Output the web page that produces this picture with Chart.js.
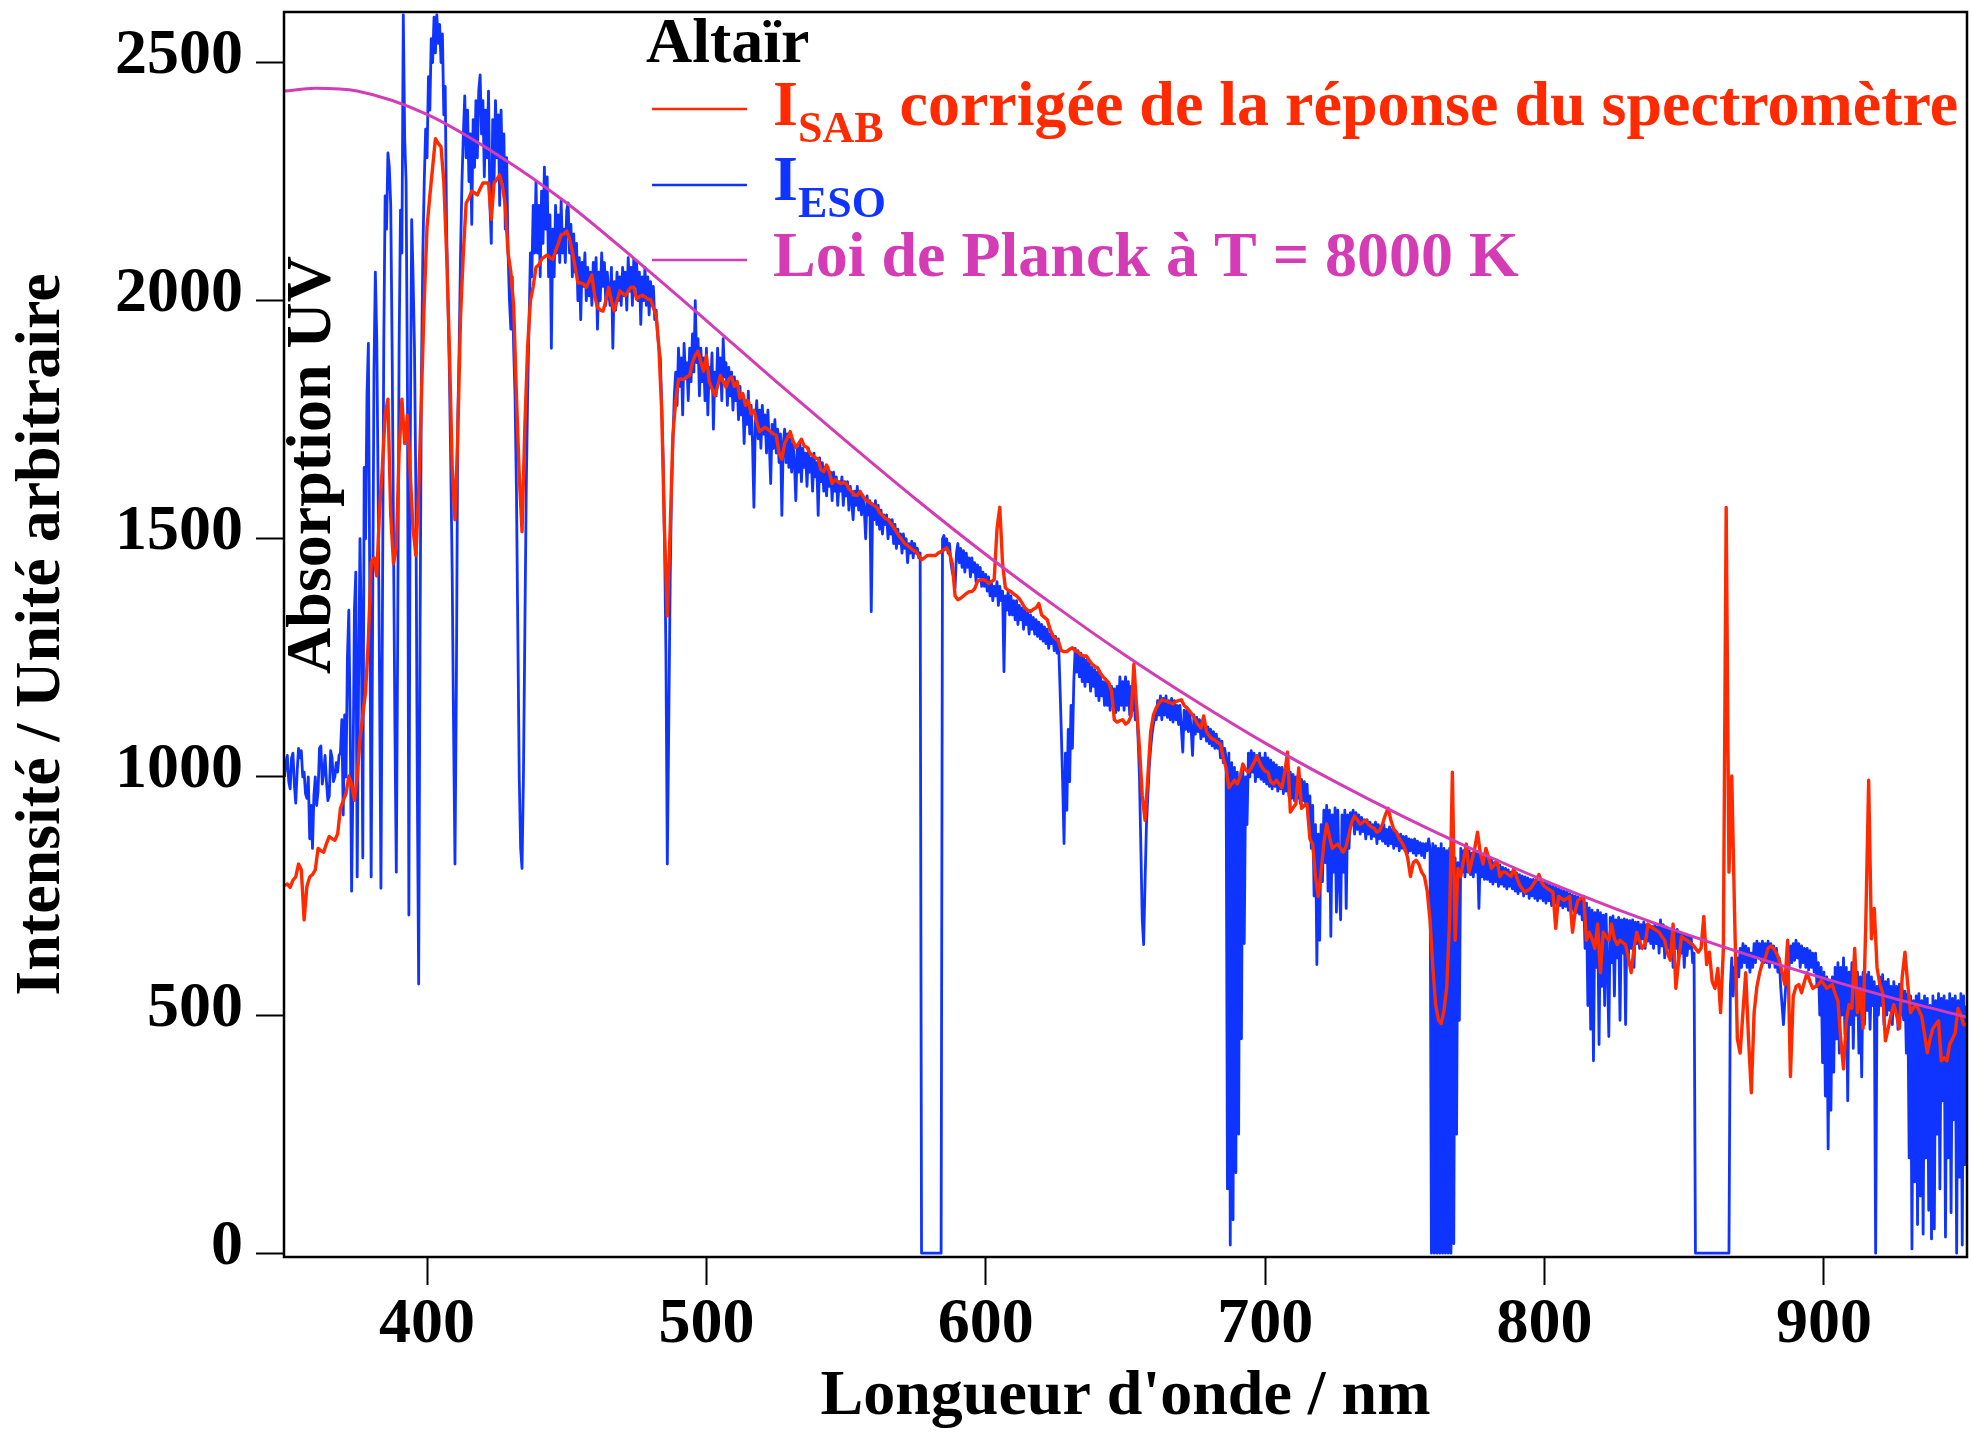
<!DOCTYPE html>
<html lang="fr">
<head>
<meta charset="utf-8">
<title>Altaïr</title>
<script src="https://cdn.jsdelivr.net/npm/chart.js@4.4.1/dist/chart.umd.min.js"></script>
<style>
  html, body { margin: 0; padding: 0; background: #fff; }
  #spectre { display: block; }
</style>
</head>
<body>
<canvas id="spectre" width="1971" height="1433"></canvas>
<script>
// ESO spectrum, one value every 0.5 nm starting at 349 nm
const esoStart = 349;
const esoStep = 0.5;
const esoValues = [
  1000, 1030, 1045, 990, 975, 1040, 1050, 985, 945, 1010, 1060, 1040, 1055, 1000, 1010, 965, 955, 1000, 870, 940,
  850, 960, 1000, 940, 970, 1060, 1065, 985, 1010, 1045, 990, 950, 960, 1055, 1040, 990, 1000, 1030, 1010, 1045,
  1050, 1120, 920, 1130, 1000, 1250, 1350, 1100, 760, 1000, 1350, 1430, 790, 1200, 1500, 1300, 830, 1650, 1500, 1800,
  1910, 1400, 790, 1300, 1850, 2060, 1920, 1600, 1200, 766, 1300, 1900, 2220, 2150, 2310, 2280, 2200, 1900, 1500, 1100,
  800, 1300, 1900, 2190, 2100, 2600, 2340, 2250, 1800, 710, 1700, 2170, 2050, 1900, 1600, 1000, 565, 1300, 1850, 2100,
  2250, 2360, 2300, 2470, 2400, 2550, 2500, 2595, 2520, 2600, 2540, 2580, 2500, 2560, 2390, 2450, 2150, 2000, 1850, 1650,
  1430, 1100, 817, 1200, 1750, 1900, 2100, 2250, 2350, 2430, 2300, 2400, 2250, 2350, 2160, 2380, 2280, 2420, 2300, 2440,
  2474, 2350, 2420, 2260, 2400, 2300, 2440, 2200, 2120, 2380, 2250, 2420, 2300, 2390, 2200, 2400, 2250, 2350, 2150, 2300,
  2100, 2000, 1940, 2050, 1900, 1800, 1600, 1300, 1000, 850, 808, 1000, 1300, 1600, 1800, 1950, 2100, 2050, 2200, 2100,
  2250, 2100, 2200, 2050, 2230, 2120, 2280, 2150, 2260, 2050, 2180, 1900, 2150, 2050, 2200, 2100, 2180, 2080, 2210, 2100,
  2150, 2080, 2190, 2205, 2100, 2160, 2050, 2140, 2060, 2120, 2000, 2090, 1960, 2080, 2030, 2100, 2000, 2070, 2010, 2060,
  1990, 2080, 2020, 2090, 1940, 2060, 2000, 2100, 2030, 2080, 1990, 2060, 2020, 1990, 2070, 1900, 2040, 1980, 2060, 2000,
  2050, 1990, 2070, 2010, 2060, 1980, 2090, 2020, 2070, 1990, 2087, 2030, 2080, 2000, 2060, 1950, 2050, 2000, 2070, 1990,
  2050, 1970, 2040, 1990, 2030, 1960, 1980, 1930, 1900, 1880, 1780, 1670, 1500, 1263, 817, 1100, 1400, 1600, 1700, 1800,
  1850, 1780, 1900, 1820, 1880, 1760, 1910, 1840, 1870, 1790, 1900, 1830, 1930, 1850, 2000, 1870, 1920, 1800, 1900, 1830,
  1880, 1790, 1900, 1760, 1860, 1820, 1890, 1730, 1850, 1800, 1900, 1830, 1880, 1790, 1920, 1840, 1870, 1780, 1860, 1800,
  1850, 1770, 1840, 1790, 1830, 1750, 1820, 1760, 1800, 1700, 1790, 1740, 1810, 1720, 1780, 1700, 1566, 1740, 1790, 1710,
  1770, 1690, 1780, 1720, 1760, 1680, 1770, 1700, 1616, 1740, 1690, 1750, 1680, 1730, 1660, 1720, 1549, 1700, 1730, 1660,
  1720, 1650, 1710, 1640, 1700, 1660, 1580, 1690, 1640, 1700, 1620, 1690, 1650, 1680, 1610, 1690, 1640, 1670, 1600, 1680,
  1630, 1660, 1549, 1670, 1620, 1660, 1600, 1650, 1590, 1650, 1610, 1640, 1580, 1640, 1600, 1630, 1570, 1620, 1600, 1630,
  1570, 1620, 1590, 1620, 1560, 1610, 1580, 1540, 1600, 1570, 1610, 1560, 1600, 1550, 1590, 1560, 1500, 1590, 1550, 1580,
  1347, 1570, 1540, 1580, 1530, 1570, 1520, 1560, 1510, 1550, 1530, 1550, 1500, 1540, 1510, 1540, 1490, 1530, 1480, 1520,
  1490, 1510, 1470, 1510, 1480, 1500, 1450, 1490, 1470, 1495, 1460, 1490, 1470, 1480, 1460, 1470, 0, 0, 0, 0,
  0, 0, 0, 0, 0, 0, 0, 0, 0, 0, 0, 1500, 1507, 1480, 1500, 1470, 1490, 1450, 1430, 1420,
  1397, 1470, 1490, 1450, 1480, 1440, 1475, 1430, 1470, 1440, 1460, 1420, 1460, 1430, 1450, 1410, 1445, 1420, 1440, 1400,
  1430, 1400, 1425, 1390, 1420, 1380, 1410, 1370, 1400, 1380, 1410, 1360, 1400, 1370, 1390, 1221, 1380, 1350, 1390, 1340,
  1380, 1340, 1370, 1330, 1370, 1320, 1360, 1330, 1355, 1310, 1350, 1320, 1345, 1300, 1340, 1310, 1335, 1300, 1330, 1295,
  1325, 1290, 1320, 1285, 1315, 1280, 1310, 1270, 1300, 1280, 1300, 1265, 1295, 1260, 1290, 1200, 1100, 990, 860, 1050,
  930, 1100, 990, 1150, 1060, 1200, 1270, 1220, 1265, 1210, 1260, 1200, 1250, 1190, 1245, 1200, 1240, 1180, 1230, 1190,
  1225, 1170, 1220, 1160, 1215, 1170, 1200, 1150, 1200, 1150, 1195, 1140, 1190, 1150, 1185, 1135, 1190, 1140, 1210, 1150,
  1200, 1140, 1210, 1150, 1200, 1130, 1190, 1140, 1180, 1120, 1150, 1080, 1000, 850, 700, 648, 780, 900, 960, 1020,
  1060, 1090, 1110, 1130, 1120, 1160, 1130, 1170, 1120, 1165, 1130, 1170, 1125, 1160, 1120, 1165, 1115, 1160, 1120, 1150,
  1110, 1150, 1100, 1052, 1140, 1100, 1140, 1095, 1135, 1100, 1045, 1130, 1090, 1125, 1095, 1120, 1080, 1115, 1085, 1110,
  1075, 1105, 1070, 1100, 1065, 1095, 1060, 1090, 1060, 1080, 1040, 1075, 1030, 1060, 1040, 135, 1050, 17, 1030, 70,
  1020, 169, 1010, 250, 1000, 450, 1020, 650, 1000, 900, 1050, 1000, 1055, 1010, 1050, 990, 1045, 1000, 1050, 995,
  1040, 990, 1050, 985, 1040, 980, 1035, 975, 1030, 980, 1025, 970, 1020, 975, 1020, 965, 1015, 970, 1010, 960,
  1010, 955, 1005, 950, 1000, 955, 1000, 945, 995, 950, 990, 940, 985, 900, 960, 850, 940, 750, 900, 606,
  880, 657, 900, 780, 930, 820, 940, 760, 930, 665, 920, 800, 935, 716, 930, 780, 700, 920, 800, 930,
  724, 920, 850, 925, 900, 930, 880, 925, 890, 920, 880, 915, 885, 910, 870, 910, 880, 905, 870, 900,
  875, 905, 860, 900, 870, 895, 865, 900, 860, 890, 855, 895, 860, 890, 850, 885, 855, 880, 845, 880,
  850, 875, 845, 875, 840, 870, 845, 868, 840, 870, 835, 865, 840, 862, 835, 860, 830, 860, 845, 870,
  850, 0, 860, 0, 855, 0, 850, 0, 860, 0, 850, 0, 845, 0, 850, 0, 820, 20, 830, 250,
  820, 489, 850, 800, 845, 790, 850, 800, 845, 795, 840, 790, 845, 800, 840, 724, 835, 790, 830, 785,
  830, 785, 825, 780, 825, 775, 820, 780, 815, 770, 815, 775, 810, 770, 808, 765, 805, 770, 800, 765,
  800, 760, 798, 755, 795, 760, 792, 750, 790, 755, 788, 745, 785, 750, 785, 745, 783, 740, 780, 745,
  780, 740, 778, 735, 775, 740, 772, 730, 770, 735, 768, 728, 765, 730, 762, 725, 760, 728, 758, 720,
  755, 722, 752, 718, 750, 715, 748, 712, 745, 700, 740, 640, 735, 520, 725, 470, 720, 404, 715, 600,
  720, 438, 715, 560, 710, 520, 712, 600, 455, 705, 610, 708, 540, 700, 620, 705, 489, 700, 630, 702,
  480, 700, 620, 698, 640, 700, 600, 695, 650, 695, 640, 690, 660, 695, 640, 690, 655, 688, 650, 686,
  640, 690, 650, 685, 630, 700, 645, 690, 620, 685, 640, 680, 630, 678, 600, 675, 640, 680, 620, 672,
  630, 670, 600, 668, 625, 665, 640, 662, 610, 630, 0, 0, 0, 0, 0, 0, 0, 0, 0, 0,
  0, 0, 0, 0, 0, 0, 0, 0, 0, 0, 0, 0, 0, 0, 0, 560, 620, 540, 600, 560,
  620, 580, 640, 600, 650, 610, 645, 600, 640, 590, 630, 600, 650, 610, 655, 620, 650, 615, 655, 610,
  650, 610, 655, 600, 650, 610, 645, 600, 640, 590, 620, 560, 520, 480, 530, 580, 630, 600, 645, 610,
  650, 615, 657, 620, 650, 600, 645, 610, 640, 600, 640, 595, 635, 600, 630, 590, 630, 560, 610, 500,
  600, 400, 590, 330, 580, 219, 570, 300, 580, 380, 600, 450, 610, 420, 600, 500, 620, 460, 600, 320,
  590, 480, 610, 430, 600, 500, 590, 420, 580, 370, 590, 480, 585, 510, 590, 470, 580, 520, 570, 0,
  560, 500, 580, 520, 585, 480, 570, 500, 575, 510, 560, 480, 570, 520, 560, 470, 565, 500, 555, 490,
  550, 420, 545, 200, 540, 9, 530, 150, 540, 60, 545, 120, 530, 40, 540, 200, 535, 90, 520, 30,
  540, 51, 530, 250, 545, 135, 535, 320, 540, 34, 530, 200, 545, 85, 535, 280, 540, 0, 530, 160,
  545, 17, 540, 186, 520
];

// SAB spectrum corrected for the spectrometer response, one value per nm from 349 nm
const sabStart = 349;
const sabStep = 1;
const sabValues = [
  772, 775, 768, 783, 790, 817, 805, 700, 770, 790,
  795, 805, 850, 845, 842, 860, 875, 870, 867, 880,
  934, 950, 965, 1002, 985, 951, 1000, 1080, 1130, 1178,
  1290, 1450, 1460, 1422, 1560, 1650, 1760, 1793, 1550, 1448,
  1480, 1683, 1793, 1700, 1759, 1633, 1520, 1465, 1600, 1800,
  2000, 2155, 2220, 2280, 2340, 2330, 2323, 2250, 2100, 1900,
  1650, 1540, 1717, 1969, 2100, 2205, 2215, 2230, 2226, 2222,
  2235, 2247, 2247, 2247, 2171, 2247, 2255, 2264, 2240, 2200,
  2100, 2060, 1990, 1800, 1633, 1515, 1734, 1902, 2000, 2030,
  2070, 2075, 2087, 2092, 2096, 2090, 2087, 2104, 2120, 2138,
  2140, 2146, 2130, 2104, 2070, 2037, 2037, 2035, 2028, 2040,
  2054, 2010, 1986, 1980, 1978, 2000, 2028, 2000, 1978, 2000,
  2020, 2015, 2011, 2020, 2028, 2028, 2003, 2008, 2011, 2008,
  2003, 2003, 1985, 1969, 1902, 1767, 1515, 1338, 1515, 1717,
  1790, 1835, 1835, 1835, 1840, 1843, 1870, 1885, 1894, 1870,
  1852, 1885, 1830, 1815, 1801, 1820, 1843, 1830, 1818, 1835,
  1840, 1820, 1830, 1795, 1805, 1780, 1790, 1762, 1770, 1745,
  1725, 1730, 1734, 1730, 1725, 1720, 1717, 1680, 1667, 1700,
  1712, 1725, 1705, 1692, 1700, 1709, 1695, 1692, 1680, 1675,
  1670, 1667, 1645, 1641, 1655, 1640, 1616, 1624, 1620, 1616,
  1618, 1616, 1605, 1599, 1592, 1591, 1599, 1590, 1582, 1578,
  1574, 1570, 1566, 1555, 1549, 1543, 1540, 1532, 1524, 1515,
  1505, 1498, 1490, 1486, 1481, 1476, 1473, 1465, 1456, 1460,
  1465, 1465, 1465, 1465, 1470, 1473, 1477, 1481, 1470, 1448,
  1380, 1372, 1375, 1380, 1385, 1389, 1389, 1395, 1410, 1414,
  1414, 1412, 1406, 1410, 1414, 1520, 1566, 1448, 1397, 1392,
  1389, 1384, 1380, 1374, 1365, 1355, 1350, 1347, 1352, 1355,
  1364, 1340, 1335, 1330, 1310, 1296, 1290, 1285, 1265, 1263,
  1263, 1268, 1271, 1265, 1262, 1256, 1254, 1254, 1245, 1237,
  1232, 1229, 1218, 1210, 1204, 1198, 1180, 1120, 1115, 1118,
  1120, 1111, 1115, 1128, 1237, 1145, 1060, 960, 909, 1000,
  1094, 1130, 1145, 1155, 1162, 1160, 1158, 1156, 1153, 1158,
  1160, 1162, 1150, 1145, 1138, 1130, 1120, 1110, 1103, 1128,
  1095, 1086, 1080, 1078, 1072, 1069, 1040, 1019, 977, 985,
  993, 985, 1000, 1027, 1015, 1010, 1019, 1030, 1044, 1030,
  1019, 1012, 1010, 990, 985, 993, 985, 977, 1010, 1052,
  926, 935, 943, 1019, 934, 940, 943, 870, 859, 791,
  749, 800, 860, 901, 875, 850, 855, 859, 850, 842,
  855, 880, 905, 918, 910, 901, 905, 909, 900, 895,
  892, 884, 888, 901, 920, 934, 909, 890, 884, 870,
  862, 850, 830, 791, 820, 825, 817, 800, 791, 760,
  700, 600, 522, 490, 482, 510, 560, 700, 1010, 657,
  808, 791, 825, 859, 800, 825, 850, 884, 840, 817,
  850, 830, 808, 815, 825, 791, 800, 800, 795, 791,
  808, 790, 774, 765, 758, 762, 766, 775, 783, 795,
  778, 770, 766, 762, 758, 682, 749, 745, 741, 745,
  749, 674, 720, 741, 745, 749, 657, 674, 660, 640,
  691, 589, 674, 665, 657, 691, 660, 648, 657, 652,
  648, 620, 589, 640, 674, 655, 640, 648, 691, 685,
  682, 678, 674, 665, 657, 630, 615, 691, 556, 615,
  665, 660, 657, 652, 648, 640, 632, 640, 707, 606,
  632, 570, 556, 598, 505, 640, 1566, 800, 1002, 716,
  450, 420, 505, 589, 450, 337, 505, 560, 589, 610,
  620, 640, 645, 640, 630, 615, 590, 564, 657, 371,
  539, 560, 564, 547, 570, 589, 570, 556, 560, 564,
  572, 565, 556, 560, 564, 545, 530, 450, 387, 488,
  522, 514, 640, 505, 556, 472, 700, 993, 660, 724,
  600, 564, 547, 446, 472, 500, 522, 500, 472, 580,
  632, 564, 505, 515, 522, 510, 497, 460, 421, 450,
  472, 480, 488, 404, 410, 404, 438, 450, 463, 514,
  500, 480, 480
];

// Planck law at T = 8000 K
const planckWavelengths = [349, 360, 375, 400, 425, 450, 475, 500, 525, 550, 575, 600, 625,
  650, 675, 700, 725, 750, 775, 800, 825, 850, 875, 900, 925, 951];
const planckValues = [2440, 2446, 2440, 2391, 2307, 2205, 2084, 1958, 1830, 1705, 1583, 1467, 1358,
  1255, 1160, 1071, 990, 915, 846, 782, 724, 671, 622, 577, 535, 496];

const xTicks = [400, 500, 600, 700, 800, 900];
const yTicks = [0, 500, 1000, 1500, 2000, 2500];

const SERIF = "'Liberation Serif', 'Times New Roman', serif";
const ROUGE = '#ff2a00';
const BLEU = '#1034ff';
const MAGENTA = '#d43bb5';

const esoPoints = esoValues.map((v, i) => ({ x: esoStart + i * esoStep, y: v }));
const sabPoints = sabValues.map((v, i) => ({ x: sabStart + i * sabStep, y: v }));
const planckPoints = planckWavelengths.map((w, i) => ({ x: w, y: planckValues[i] }));

const legendRows = [
  { color: ROUGE, lineY: 109, baseline: 125,
    parts: [['I', false], ['SAB', true], [' corrigée de la réponse du spectromètre', false]] },
  { color: BLEU, lineY: 185, baseline: 200,
    parts: [['I', false], ['ESO', true]] },
  { color: MAGENTA, lineY: 260, baseline: 276,
    parts: [['Loi de Planck à T = 8000 K', false]] }
];

// black frame around the plot area
const cadre = {
  id: 'cadre',
  afterDatasetsDraw(chart) {
    const { ctx, chartArea: a } = chart;
    ctx.save();
    ctx.strokeStyle = '#000';
    ctx.lineWidth = 2.5;
    ctx.strokeRect(a.left, a.top, a.right - a.left, a.bottom - a.top);
    ctx.restore();
  }
};

// legend block with subscripts, plus the "Absorption UV" note
const legende = {
  id: 'legende',
  afterDraw(chart) {
    const ctx = chart.ctx;
    const big = 'bold 64px ' + SERIF;
    const small = 'bold 44px ' + SERIF;
    ctx.save();
    ctx.textAlign = 'left';
    ctx.textBaseline = 'alphabetic';
    ctx.font = big;
    ctx.fillStyle = '#000';
    ctx.fillText('Altaïr', 646, 62);

    legendRows.forEach(row => {
      ctx.strokeStyle = row.color;
      ctx.lineWidth = 2.5;
      ctx.beginPath();
      ctx.moveTo(652, row.lineY);
      ctx.lineTo(747, row.lineY);
      ctx.stroke();
      ctx.fillStyle = row.color;
      let x = 773;
      row.parts.forEach(([text, sub]) => {
        ctx.font = sub ? small : big;
        ctx.fillText(text, x, row.baseline + (sub ? 17 : 0));
        x += ctx.measureText(text).width;
      });
    });

    ctx.translate(330, 465);
    ctx.rotate(-Math.PI / 2);
    ctx.font = big;
    ctx.fillStyle = '#000';
    ctx.textAlign = 'center';
    ctx.fillText('Absorption UV', 0, 0);
    ctx.restore();
  }
};

const axisFont = { family: SERIF, size: 64, weight: 'bold' };
const tickGrid = { drawOnChartArea: false, drawTicks: true, tickLength: 28, tickWidth: 2, tickColor: '#000', color: '#000' };
const plainNumber = v => String(v);

new Chart(document.getElementById('spectre'), {
  type: 'line',
  data: {
    datasets: [
      { label: 'I SAB', data: sabPoints, borderColor: ROUGE, borderWidth: 3.4, order: 1 },
      { label: 'I ESO', data: esoPoints, borderColor: BLEU, borderWidth: 2.8, order: 2 },
      { label: 'Loi de Planck', data: planckPoints, borderColor: MAGENTA, borderWidth: 3,
        cubicInterpolationMode: 'monotone', order: 0 }
    ]
  },
  options: {
    responsive: false,
    animation: false,
    parsing: false,
    elements: {
      point: { radius: 0 },
      line: { tension: 0, borderJoinStyle: 'round', fill: false }
    },
    layout: { padding: { top: 12, right: 4, left: 0, bottom: 0 } },
    plugins: { legend: { display: false }, tooltip: { enabled: false } },
    scales: {
      x: {
        type: 'linear',
        min: 348.8,
        max: 951.2,
        afterBuildTicks: s => { s.ticks = xTicks.map(v => ({ value: v })); },
        afterFit: s => { s.height = 176; s.paddingLeft = 0; s.paddingRight = 0; },
        grid: tickGrid,
        border: { display: false },
        ticks: { font: axisFont, color: '#000', padding: 2, maxRotation: 0, autoSkip: false, callback: plainNumber },
        title: {
          display: true,
          text: "Longueur d'onde / nm",
          color: '#000',
          font: { family: SERIF, size: 64, weight: 'bold', lineHeight: 1.1 },
          padding: { top: 0, bottom: 0 }
        }
      },
      y: {
        type: 'linear',
        min: -8,
        max: 2606,
        afterBuildTicks: s => { s.ticks = yTicks.map(v => ({ value: v })); },
        afterFit: s => { s.width = 284; s.paddingTop = 0; s.paddingBottom = 0; },
        grid: tickGrid,
        border: { display: false },
        ticks: { font: axisFont, color: '#000', padding: 13, labelOffset: -6, autoSkip: false, callback: plainNumber },
        title: {
          display: true,
          text: 'Intensité / Unité arbitraire',
          color: '#000',
          font: { family: SERIF, size: 64, weight: 'bold' },
          padding: { top: 4, bottom: 0 }
        }
      }
    }
  },
  plugins: [cadre, legende]
});
</script>
</body>
</html>
